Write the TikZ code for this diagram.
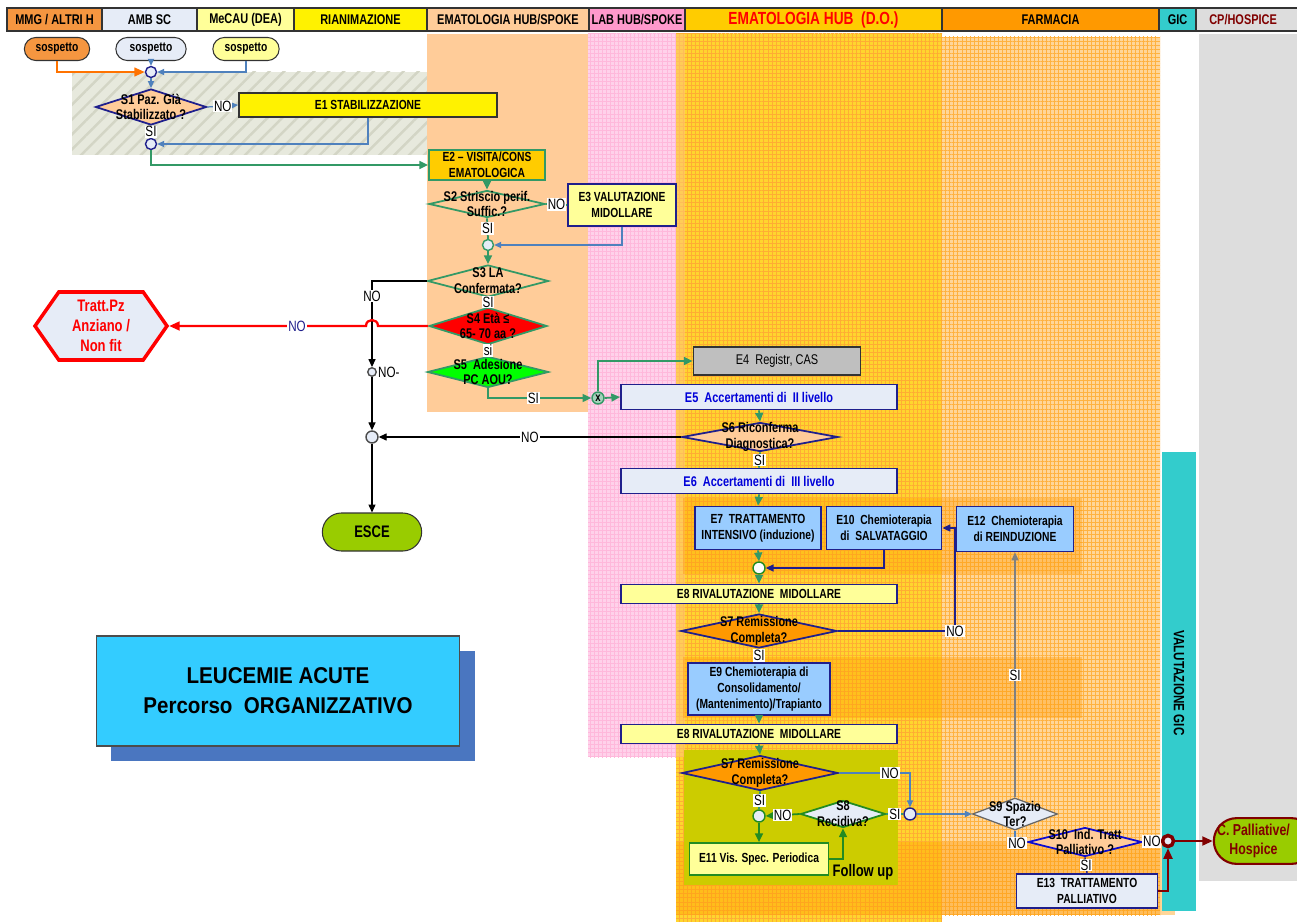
\documentclass[tikz,border=0pt]{standalone}
\usepackage{fontspec}
\setmainfont{Liberation Sans}[FakeStretch=0.78]
\newfontfamily\titlefont{Liberation Sans}[FakeStretch=0.9]
\usetikzlibrary{shapes.geometric,shapes.misc,shapes.symbols,arrows.meta,patterns.meta,shadows,positioning}

\definecolor{mmgor}{HTML}{F59640}
\definecolor{ambbl}{HTML}{E6ECF7}
\definecolor{lightyel}{HTML}{FFFF99}
\definecolor{peach}{HTML}{FFCC99}
\definecolor{pinkhdr}{HTML}{FF99CC}
\definecolor{pinklane}{HTML}{FFD1EA}
\definecolor{gold}{HTML}{FFCC00}
\definecolor{goldlane}{HTML}{FFD52E}
\definecolor{farmor}{HTML}{FF9900}
\definecolor{farmlane}{HTML}{FFD699}
\definecolor{gicteal}{HTML}{33CCCC}
\definecolor{cpgray}{HTML}{DDDDDD}
\definecolor{navy}{HTML}{1F1F8C}
\definecolor{arrgreen}{HTML}{339966}
\definecolor{arrblue}{HTML}{4F81BD}
\definecolor{lightblue}{HTML}{99CCFF}
\definecolor{olive}{HTML}{CCCC00}
\definecolor{escegreen}{HTML}{99CC00}
\definecolor{darkred}{HTML}{800000}
\definecolor{titlecyan}{HTML}{33CCFF}
\definecolor{shadowblue}{HTML}{4A76C0}
\definecolor{hatchbg}{HTML}{E7E9DD}
\definecolor{hatchln}{HTML}{D3D5C5}
\definecolor{boxgreen}{HTML}{228B22}

\tikzset{
  sz/.style 2 args={minimum width=#1*0.02cm, minimum height=#2*0.02cm},
  hdr/.style={draw=black!80, line width=0.6pt, inner sep=0pt, font=\bfseries\fontsize{8}{9}\selectfont},
  ebox/.style={draw=navy, line width=1pt, inner sep=1pt, align=center, font=\bfseries\fontsize{7.5}{9}\selectfont},
  dia/.style={diamond, draw=navy, line width=1pt, inner sep=0pt},
  dtxt/.style={align=center, inner sep=0pt, font=\bfseries\fontsize{8}{9}\selectfont},
  jn/.style={circle, draw=navy, fill=ambbl, line width=0.8pt, inner sep=0pt, minimum size=0.22cm},
  lbl/.style={fill=white, inner sep=0.5pt, font=\fontsize{8.5}{9}\selectfont},
  arrtip/.style={-{Triangle[length=5pt,width=4.5pt]}},
  garr/.style={draw=arrgreen, line width=1pt, arrtip},
  gline/.style={draw=arrgreen, line width=1pt},
  barr/.style={draw=arrblue, line width=0.7pt, -{Triangle[length=4pt,width=3.5pt]}},
  karr/.style={draw=black, line width=0.6pt, -{Triangle[length=4.5pt,width=4pt]}},
  narr/.style={draw=navy, line width=0.8pt, -{Triangle[length=4.5pt,width=4pt]}},
  rarr/.style={draw=darkred, line width=1.4pt, -{Triangle[length=6pt,width=5pt]}},
  gridlane/.style={pattern={Hatch[angle=0,distance=2.3pt,line width=0.3pt]}},
}

\begin{document}
\begin{tikzpicture}[x=0.02cm, y=-0.02cm]
\useasboundingbox (0,0) rectangle (1297,922);
\fill[white] (0,0) rectangle (1297,922);

% lanes
\fill[hatchbg] (72,72) rectangle (506,155);
\fill[pattern={Lines[angle=45,distance=6pt,line width=1.4pt]}, pattern color=hatchln] (72,72) rectangle (506,155);
\fill[peach] (427,34) rectangle (589,412);
\fill[pinklane] (588,34) rectangle (676,757);
\fill[gridlane, pattern color=pinkhdr!70] (588,34) rectangle (676,757);
\fill[goldlane] (676,34) rectangle (942,922);
\fill[gridlane, pattern color=farmor!80] (676,34) rectangle (942,922);
\fill[farmor!55, opacity=0.6] (676,34) rectangle (685,757);
\fill[farmlane] (942,37) rectangle (1160,915);
\fill[gridlane, pattern color=farmor!75] (942,37) rectangle (1160,915);
\fill[farmor, opacity=0.35] (683,498) rectangle (1082,574);
\fill[farmor, opacity=0.35] (683,657) rectangle (1082,718);
\fill[farmor, opacity=0.4] (676,842) rectangle (1175,915);
\fill[olive] (684,750) rectangle (898,885);
\fill[cpgray] (1199,34) rectangle (1297,881);
\fill[gicteal] (1162,452) rectangle (1196,911);
\node[rotate=-90, font=\bfseries\fontsize{8.5}{9}\selectfont] (gictxt) at (1179,683) {VALUTAZIONE GIC};

% header
\node[hdr, sz={95}{23}, fill=mmgor] (h1) at (54.5,19.5) {MMG / ALTRI H};
\node[hdr, sz={95}{23}, fill=ambbl] (h2) at (149.5,19.5) {AMB SC};
\node[hdr, sz={97}{23}, fill=lightyel] (h3) at (245.5,19.5) {MeCAU (DEA)};
\node[hdr, sz={133}{23}, fill=yellow] (h4) at (360.5,19.5) {RIANIMAZIONE};
\node[hdr, sz={162}{23}, fill=peach] (h5) at (508,19.5) {EMATOLOGIA HUB/SPOKE};
\node[hdr, sz={96}{23}, fill=pinkhdr] (h6) at (637,19.5) {LAB HUB/SPOKE};
\node[hdr, sz={257}{23}, fill=gold, text=red, font=\bfseries\fontsize{10}{11}\selectfont] (h7) at (813.5,19.5) {EMATOLOGIA HUB\ \ (D.O.)};
\node[hdr, sz={217}{23}, fill=farmor] (h8) at (1050.5,19.5) {FARMACIA};
\node[hdr, sz={37}{23}, fill=gicteal] (h9) at (1177.5,19.5) {GIC};
\node[hdr, sz={110}{23}, fill=cpgray, text=darkred] (h10) at (1251,19.5) {\hspace*{-9pt}CP/HOSPICE};

% title
\node[draw=black!70, line width=0.6pt, fill=titlecyan, sz={363}{110}, align=center,
  drop shadow={shadow xshift=0.3cm, shadow yshift=-0.3cm, fill=shadowblue, opacity=1},
  font=\titlefont\bfseries\fontsize{13}{17}\selectfont] (title) at (278,691) {LEUCEMIE ACUTE\\Percorso\ \ ORGANIZZATIVO};

% start
\node[rounded rectangle, draw=black!80, line width=0.6pt, fill=mmgor, sz={77}{23}, font=\bfseries\fontsize{7.5}{9}\selectfont] (sos1) at (57,49) {sospetto};
\node[rounded rectangle, draw=black!80, line width=0.6pt, fill=ambbl, sz={82}{23}, font=\bfseries\fontsize{7.5}{9}\selectfont] (sos2) at (151,49) {sospetto};
\node[rounded rectangle, draw=black!80, line width=0.6pt, fill=lightyel, sz={78}{23}, font=\bfseries\fontsize{7.5}{9}\selectfont] (sos3) at (246,49) {sospetto};
\node[jn] (c1) at (151,72) {};
\node[dia, fill=peach, sz={111}{36}, label={[dtxt]center:S1 Paz. Già\\Stabilizzato ?}] (S1) at (151,107) {};
\node[ebox, draw=black!80, fill=yellow, sz={258}{24}] (E1) at (368,105) {E1 STABILIZZAZIONE};
\node[jn] (c2) at (151,144) {};

% ematologia hub/spoke
\node[ebox, draw=arrgreen, fill=gold, sz={116}{30}] (E2) at (487,165) {E2 -- VISITA/CONS\\EMATOLOGICA};
\node[dia, draw=arrgreen, fill=peach, sz={116}{27}, label={[dtxt]center:S2 Striscio perif.\\Suffic.?}] (S2) at (487,204) {};
\node[ebox, fill=lightyel, sz={108}{42}] (E3) at (622,205) {E3 VALUTAZIONE\\MIDOLLARE};
\node[jn, draw=arrgreen] (c3) at (488,245) {};
\node[dia, draw=arrgreen, fill=peach, sz={121}{32}, label={[dtxt]center:S3 LA\\Confermata?}] (S3) at (488,281) {};
\node[dia, draw=arrgreen, fill=red, sz={118}{37}, label={[dtxt]center:S4 Età ≤\\65- 70 aa ?}] (S4) at (488,326) {};
\node[dia, draw=arrgreen, fill=green, sz={121}{31}, label={[dtxt]center:S5 \ Adesione\\PC AOU?}] (S5) at (488,372) {};
\node[signal, signal to=west and east, signal pointer angle=110, draw=red, line width=2pt, fill=ambbl,
  sz={132}{68}, inner sep=0pt, align=center, text=red, font=\bfseries\fontsize{9.5}{11.3}\selectfont] (Tratt) at (101,326) {Tratt.Pz\\Anziano /\\Non fit};
\node[jn, draw=black!70, minimum size=0.17cm] (c4) at (372,372) {};
\node[jn, draw=black!70, minimum size=0.24cm] (c5) at (372,437) {};
\node[rounded rectangle, draw=black!80, line width=0.6pt, fill=escegreen, sz={111}{38}, font=\bfseries\fontsize{9.5}{11}\selectfont] (ESCE) at (372,532) {ESCE};
\node[circle, draw=arrgreen, fill=arrgreen!45, line width=0.8pt, inner sep=0pt, minimum size=0.24cm, font=\bfseries\fontsize{7}{7}\selectfont] (xc) at (598,398) {x};

% ematologia hub (D.O.)
\node[ebox, draw=black!80, fill=black!25, sz={167}{28}, font=\fontsize{8}{9}\selectfont] (E4) at (777,361) {E4 \ Registr, CAS};
\node[ebox, fill=ambbl, sz={276}{25}, text=blue!85!black, font=\bfseries\fontsize{8}{9}\selectfont] (E5) at (759,397) {E5 \ Accertamenti di \ II livello};
\node[dia, fill=peach, sz={156}{29}, label={[dtxt]center:S6 Riconferma\\Diagnostica?}] (S6) at (760,437) {};
\node[ebox, fill=ambbl, sz={276}{25}, text=blue!85!black, font=\bfseries\fontsize{8}{9}\selectfont] (E6) at (759,481) {E6 \ Accertamenti di \ III livello};
\node[ebox, fill=lightblue, sz={126}{43}] (E7) at (758,528) {E7 \ TRATTAMENTO\\INTENSIVO (induzione)};
\node[ebox, fill=lightblue, sz={115}{43}] (E10) at (884,528) {E10 \ Chemioterapia\\di \ SALVATAGGIO};
\node[ebox, fill=lightblue, sz={117}{45}] (E12) at (1015,529) {E12 \ Chemioterapia\\di REINDUZIONE};
\node[jn, draw=boxgreen, fill=white!90!ambbl, minimum size=0.24cm] (c6) at (759,568) {};
\node[ebox, fill=lightyel, sz={276}{19}] (E8a) at (759,594) {E8 RIVALUTAZIONE \ MIDOLLARE};
\node[dia, fill=farmor, sz={156}{34}, label={[dtxt]center:S7 Remissione\\Completa?}] (S7a) at (759,631) {};
\node[ebox, fill=lightblue, sz={142}{52}] (E9) at (759,689) {E9 Chemioterapia di\\Consolidamento/\\(Mantenimento)/Trapianto};
\node[ebox, fill=lightyel, sz={276}{19}] (E8b) at (759,734) {E8 RIVALUTAZIONE \ MIDOLLARE};
\node[dia, fill=farmor, sz={156}{35}, label={[dtxt]center:S7 Remissione\\Completa?}] (S7b) at (760,773) {};
\node[jn, draw=boxgreen, fill=ambbl, minimum size=0.24cm] (c7) at (759,816) {};
\node[dia, draw=boxgreen, fill=ambbl, sz={85}{27}, label={[dtxt]center:S8\\Recidiva?}] (S8) at (843,814) {};
\node[ebox, draw=boxgreen, fill=lightyel, sz={139}{32}] (E11) at (759,859) {E11 Vis. Spec. Periodica};
\node[font=\bfseries\fontsize{9.5}{11}\selectfont] (fu) at (863,872) {Follow up};
\node[jn, minimum size=0.24cm] (c8) at (910,814) {};

% farmacia
\node[dia, draw=black!60, line width=0.7pt, fill=ambbl, sz={85}{32}, label={[dtxt]center:S9 Spazio\\Ter?}] (S9) at (1015,814) {};
\node[dia, draw=blue!60!navy, fill=peach, sz={114}{29}, label={[dtxt]center:S10 \ Ind. Tratt\\Palliativo ?}] (S10) at (1085,842) {};
\node[ebox, fill=ambbl, sz={141}{34}] (E13) at (1087,891) {E13 \ TRATTAMENTO\\PALLIATIVO};
\node[jn, draw=darkred, line width=2pt, minimum size=0.22cm] (c9) at (1168,841) {};
\node[rounded rectangle, draw=darkred, line width=1.2pt, fill=escegreen, sz={112}{42}, align=center,
  text=darkred, font=\bfseries\fontsize{9}{11}\selectfont] (CP) at (1264,841) {\hspace*{-12pt}C. Palliative/\\\hspace*{-12pt}Hospice};

% connectors
\draw[draw=orange!90!red, line width=1.2pt, -{Triangle[length=6pt,width=5pt]}] (sos1.south) |- (c1.west);
\draw[barr] (sos2.south) -- (c1.north);
\draw[barr] (sos3.south) |- (c1.east);
\draw[barr] (c1.south) -- (S1.north);
\draw[barr] (S1.east) -- node[lbl] (nS1) {NO} (E1.west);
\draw[draw=arrblue, line width=0.7pt] (S1.south) -- node[lbl] (yS1) {SI} (c2.north);
\draw[barr] (E1.south) |- (c2.east);
\draw[garr] (c2.south) |- (E2.west);
\draw[garr] (E2.south) -- (S2.north);
\draw[gline] (S2.east) -- node[lbl] (nS2) {NO} (E3.west);
\draw[gline] (S2.south) -- node[lbl] (yS2) {SI} (c3.north);
\draw[barr] (E3.south) |- (c3.east);
\draw[garr] (c3.south) -- (S3.north);
\draw[karr] (S3.west) -| (c4.north);
\node[lbl] (nS3) at (372,296) {NO};
\draw[gline] (S3.south) -- node[lbl] (yS3) {SI} (S4.north);
\draw[draw=red, line width=1.3pt, -{Triangle[length=6pt,width=5pt]}] (S4.west) -- (378,326) .. controls (378,318) and (366,318) .. (366,326) -- (Tratt.east);
\node[lbl, text=navy] (nS4) at (297,326) {NO};
\draw[gline] (S4.south) -- node[lbl] (yS4) {si} (S5.north);
\node[lbl, fill=none, right=0pt of c4] (nc4) {NO-};
\draw[karr] (c4.south) -- (c5.north);
\draw[garr] (S5.south) |- node[lbl, pos=0.72] (yS5) {SI} (xc.west);
\draw[garr] (xc.east) -- (E5.west);
\draw[garr] (xc.north) |- (E4.west);
\draw[garr] (E5.south) -- (S6.north);
\draw[karr] (S6.west) -- node[lbl] (nS6) {NO} (c5.east);
\draw[karr] (c5.south) -- (ESCE.north);
\draw[gline] (S6.south) -- node[lbl] (yS6) {SI} (E6.north);
\draw[garr] (E6.south) -- (E7.north);
\draw[garr] (E7.south) -- (c6.north);
\draw[narr] (E10.south) |- (c6.east);
\draw[garr] (c6.south) -- (E8a.north);
\draw[garr] (E8a.south) -- (S7a.north);
\coordinate (k1) at (955,631);
\draw[narr] (S7a.east) -- (k1) |- (E10.east);
\node[lbl] (nS7a) at (k1) {NO};
\draw[gline] (S7a.south) -- node[lbl] (yS7a) {SI} (E9.north);
\draw[garr] (E9.south) -- (E8b.north);
\draw[garr] (E8b.south) -- (S7b.north);
\draw[barr] (S7b.east) -| (c8.north);
\node[lbl] (nS7b) at (890,773) {NO};
\draw[gline] (S7b.south) -- node[lbl] (yS7b) {SI} (c7.north);
\draw[draw=boxgreen, line width=1pt, arrtip] (c7.south) -- (E11.north);
\draw[draw=boxgreen, line width=1pt, arrtip] (E11.east) -| (S8.south);
\draw[draw=boxgreen, line width=1pt, arrtip] (S8.west) -- node[lbl] (nS8) {NO} (c7.east);
\draw[gline] (S8.east) -- node[lbl] (yS8) {SI} (c8.west);
\draw[barr] (c8.east) -- (S9.west);
\draw[draw=gray, line width=0.7pt, -{Triangle[length=4.5pt,width=4pt]}] (S9.north) -- node[lbl] (yS9) {SI} (E12.south);
\draw[barr] (S9.south) |- (S10.west);
\node[lbl] (nS9) at (1017,843) {NO};
\draw[draw=navy, line width=0.8pt] (S10.east) -- node[lbl] (nS10) {NO} (c9.west);
\draw[draw=navy, line width=0.8pt] (S10.south) -- node[lbl] (yS10) {SI} (E13.north);
\draw[rarr] (E13.east) -| (c9.south);
\draw[rarr] (c9.east) -- (CP.west);
\end{tikzpicture}
\end{document}
